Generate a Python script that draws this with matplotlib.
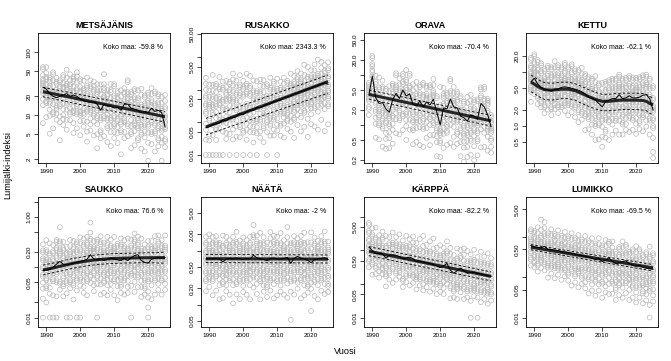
import numpy as np
import matplotlib.pyplot as plt
from matplotlib.ticker import FixedLocator, FixedFormatter, NullFormatter

plt.rcParams['font.family'] = ['Liberation Sans', 'DejaVu Sans']

vuodet = list(range(1989, 2026))

lajit = ["METSÄJÄNIS", "RUSAKKO", "ORAVA", "KETTU", "SAUKKO", "NÄÄTÄ", "KÄRPPÄ", "LUMIKKO"]
muutos = ["-59.8", "2343.3", "-70.4", "-62.1", "76.6", "-2", "-82.2", "-69.5"]

# koko maan indeksi vuosittain
idx_metsajanis = [28, 26, 22, 20, 19, 20, 21, 22, 20, 21, 20, 18, 17, 16.5, 16, 16.5, 15, 12, 15, 14,
                  14, 13, 13.5, 12, 15, 15, 13, 12.5, 12, 11, 11.5, 11, 13, 11.5, 12, 11, 6.5]
idx_rusakko = [0.068, 0.074, 0.083, 0.089, 0.095, 0.12, 0.11, 0.135, 0.14, 0.15, 0.19, 0.17, 0.21,
               0.24, 0.23, 0.29, 0.28, 0.31, 0.36, 0.37, 0.43, 0.46, 0.49, 0.57, 0.60, 0.65, 0.74,
               0.78, 0.88, 0.92, 1.05, 1.10, 1.25, 1.32, 1.50, 1.58, 1.45]
idx_orava = [4.0, 9.5, 3.5, 2.7, 2.8, 2.1, 1.8, 3.2, 4.3, 3.4, 5.0, 3.8, 4.2, 2.6, 2.4, 3.0, 2.3, 2.9,
             2.5, 3.3, 1.8, 1.0, 2.2, 2.1, 3.3, 2.3, 2.2, 1.5, 1.4, 1.2, 1.6, 1.5, 1.3, 2.7, 2.3, 1.6, 0.92]
idx_kettu = [6.6, 7.7, 6.0, 5.2, 4.8, 4.7, 4.4, 4.8, 4.8, 5.2, 5.3, 5.2, 5.0, 4.8, 4.6, 4.3, 3.9, 3.4,
             3.2, 3.0, 2.6, 2.25, 2.8, 3.0, 3.2, 3.2, 3.8, 3.2, 3.3, 3.6, 3.3, 3.3, 3.4, 3.7, 3.8, 3.2, 1.96]
idx_saukko = [0.086, 0.087, 0.09, 0.10, 0.115, 0.13, 0.115, 0.11, 0.115, 0.12, 0.125, 0.13, 0.135,
              0.145, 0.177, 0.145, 0.14, 0.15, 0.135, 0.145, 0.155, 0.145, 0.14, 0.135, 0.15, 0.135,
              0.155, 0.17, 0.177, 0.135, 0.125, 0.12, 0.145, 0.15, 0.155, 0.15, 0.155]
idx_naata = [0.70, 0.71, 0.70, 0.72, 0.70, 0.62, 0.70, 0.72, 0.70, 0.73, 0.71, 0.68, 0.72, 0.70, 0.82,
             0.74, 0.70, 0.69, 0.65, 0.72, 0.73, 0.70, 0.69, 0.72, 0.75, 0.58, 0.72, 0.78, 0.73, 0.70,
             0.66, 0.60, 0.68, 0.70, 0.72, 0.74, 0.68]
idx_karppa = [1.26, 1.0, 0.8, 0.82, 0.8, 0.59, 0.72, 0.75, 0.72, 0.66, 0.57, 0.6, 0.63, 0.57, 0.48,
              0.48, 0.45, 0.43, 0.41, 0.38, 0.35, 0.31, 0.35, 0.41, 0.26, 0.21, 0.25, 0.3, 0.25, 0.21,
              0.22, 0.23, 0.21, 0.2, 0.19, 0.18, 0.17]
idx_lumikko = [0.63, 0.58, 0.56, 0.55, 0.6, 0.5, 0.5, 0.48, 0.47, 0.44, 0.43, 0.42, 0.4, 0.38, 0.36,
               0.35, 0.34, 0.32, 0.3, 0.28, 0.3, 0.25, 0.27, 0.31, 0.25, 0.22, 0.23, 0.25, 0.26, 0.22,
               0.2, 0.19, 0.2, 0.18, 0.17, 0.165, 0.16]

# trendi ja sen luottamusväli (vuosi, arvo)
tv_suora = [1989, 2025]
tr_metsajanis, ala_metsajanis, yla_metsajanis = [23.7, 9.5], [19.7, 7.8], [27.8, 11.5]
tr_rusakko, ala_rusakko, yla_rusakko = [0.072, 1.757], [0.041, 0.78], [0.132, 2.8]
tr_orava, ala_orava, yla_orava = [4.1, 1.21], [3.3, 0.95], [5.0, 1.55]
tv_kettu = [1989, 1990, 1991, 1992, 1993, 1995, 1998, 2000, 2002, 2004, 2006, 2008, 2010, 2012,
            2014, 2016, 2018, 2020, 2022, 2023, 2024, 2025]
tr_kettu = [6.5, 6.0, 5.4, 5.0, 4.7, 4.6, 4.8, 4.8, 4.5, 4.0, 3.5, 3.1, 2.85, 2.85, 2.95, 3.0, 3.0,
            3.0, 2.95, 2.85, 2.6, 2.45]
yla_kettu = [8.8, 8.1, 7.3, 6.8, 6.4, 6.2, 6.5, 6.5, 6.1, 5.4, 4.7, 4.2, 3.85, 3.85, 4.0, 4.05, 4.05,
             4.05, 4.0, 3.85, 3.5, 3.3]
ala_kettu = [4.3, 4.0, 3.6, 3.3, 3.1, 3.0, 3.2, 3.2, 3.0, 2.6, 2.3, 2.05, 1.9, 1.9, 1.95, 2.0, 2.0,
             2.0, 1.95, 1.9, 1.7, 1.6]
tv_saukko = [1989, 1992, 1995, 1998, 2001, 2004, 2007, 2010, 2013, 2016, 2019, 2022, 2025]
tr_saukko = [0.088, 0.097, 0.108, 0.12, 0.13, 0.139, 0.145, 0.149, 0.151, 0.153, 0.154, 0.155, 0.155]
yla_saukko = [0.11, 0.121, 0.135, 0.15, 0.162, 0.174, 0.181, 0.186, 0.189, 0.191, 0.193, 0.194, 0.2]
ala_saukko = [0.07, 0.078, 0.086, 0.096, 0.104, 0.111, 0.116, 0.119, 0.121, 0.122, 0.123, 0.122, 0.12]
tr_naata, ala_naata, yla_naata = [0.71, 0.696], [0.60, 0.59], [0.85, 0.83]
tr_karppa, ala_karppa, yla_karppa = [0.95, 0.17], [0.7, 0.125], [1.3, 0.23]
tr_lumikko, ala_lumikko, yla_lumikko = [0.57, 0.174], [0.49, 0.145], [0.66, 0.21]

# alueiden arvot suhteessa koko maan indeksiin:
# pieni kirjain = poikkeama (m = indeksi), iso kirjain = puoli askelta ylempänä, _ = nolla
al_metsajanis = """
dHjKlmMnNopQr fIjkKlLmnOpqR cGiJklMmNoPpq eHikLmMnnOqRs GiJjkLmnNoPqr
bFhJklMmnOoPq EghIkLlmNopQr dFiJkLmnNoOqs gHijKmMnnOpqR CfHijKlMnoPqQ
eHiJkLlmNoPrs dGiIjkMmNopQr FhIjkLmMnoOpr cEhJkLmnNoPqs fGiJkKlmNoPqR
DhIjKlmMnOpqr bEhIjKlMnOpPr fGhJkLmMnOqrS eIjKlMnNoPqrT dGhIjkLlMnOpq
cFhIjKmMnoPqR EgHiJkLmnOpRs dFhIjKmMnOoPq bGhIjKlMnNoPr DfHiIkKmMnOpq
eGhJkLmNnOpRs cFgHjKlMmNoPq dGiIjKlMnOpQr EfHiJkLmMnOpr dGhIjKlLmNoQs
cFhIjKmMnNoPq aEhIjKlMnOpQr dFgIjKlMmNoPr cGhIjKlLmNoQr dEfHiJkMmNoPq
aEgHiJkLmMnOq hIjLmNnOpQrSu
""".split()
al_rusakko = """
_jLnPqRsTuVxY _IkNoQrRsTvW _JmOpQrStUwY _iKlNpQrSuVw _KmNoQrSsUvX
_jLmOpQrTuV HjLnOpRrStUw _iKmNpQrStUv GjLmOqQrSuVx _hJlNoPqRsTv
gIjLmNpQrStV _HiKlNoQrStU fHjKmNoQrStV _GiJlMnPqRsU eGiJkLnOpQrT
_FhIjLmNoPqS EgIjKmNoPqRt dGhJkLmNoPrS _fHiJkLmNoQr eGhIjLmNoPqS
DfHiJkMnOpQr _EgHjKlMnOpR dFgIjKlMnOpQ cFhIiJkLmNoPr eGgHiJkLmNoPq
dFhIjJkLmNoOpR bFgHiJkLmNnOpQ eGiJjKlMmNoPqR cFhIjKlLmNoOpQ dGhIjKkLmNnOqS
aEhIjKlLmMnOpR dFhIiJkLmNnOpQ cGhIjKkLmNoOqR bFhIjKlLmNoOpS dGhIiJkLmMnOqR
aFhIjJkLmNnOpQ cGhIjKkLmNoPqR
""".split()
al_orava = """
hIjKlLmMnNoOp gHiJkLmNnOpQr cFhIjKlMmNoPqR dGhIjKkLmNoPqS bFgHiJkLmNoPqR
cEgIjKlMmNoQr dFhIjKlLmNoPrS bEgHiJkMmNoPq cFhIjKlMnNoQr dGhIjKkLmNoPr
cFgIjKlLmNoPq bEgHiJkLmNoPqS dFhIjKlMmNoQr cFgHiJkMnNoPr dGiIjKlMnOpQs
bFhIjKlLmNoPq cGhIjKmMnOpRs dFhIjKlMnNoPq cEhIjKlLmNoQr dFgHiJkMnNoPr
bEgHiJkLmMnPq eHiJkKlMnOpQrV cFhIjKlMnOpPr dGgHiJkLmNoPq bFhIjKlLmNoQr
cEhIjKlMnNoPr dFgIjKkLmNoPq cFhIjKlMmNoQr bEgHiJkMnNoPq dFhIjKlMmNoQs
cFgHiJkLmNoPr bEhIjKkLmNoPq dGhIjKlMmNoQr bFhIiJkLmNoPq cFhIjKlLmNoQr
dGiIjKlMnOpPq bFhIjKlLmNnOp
""".split()
al_kettu = """
hJkKlMmNnOoPqRs iJjKlMmNnOoPqRs hIjKlLmMnOoPqRs hIiJkLmMnNoPqRs gHiJkLlMnNoOpQr
hIjKkLmMnOoPqRs gHiJkLmMnNoPqRs hIiJkLlMnOoPqRt gHiJkKlMmNoPqRs hHiJkLmMnNoOpQr
gHiJkLlMnNoPqRs fHiIjKlMmNoOpQr gHiJkKlMnNoPqRs fHiJkLlMmNoOpQr eGhIjKlMmNnOpQr
fGhIjKlMnNoOpQs dGhIjKkLmMnOpQr eGhIiJkLmNnOpQr dFhIjKlLmNoOpQr cFgHiJkLmMnOpQs
dGhIjKkLmNnOpQr cEhIjKlMmNoOpQs dEfHiJkLmNnOpQr cGhIiJkLmMnOpQr dFhIjKkLmNnOpQr
eGhIjKlLmMnOpQr cFhIjKlMnNoOpQr dFgHiJkLmMnOpQr eFhIjKkLmNnOpQr dGhIiJkLmMnOpQr
eGhIjKlLmNnOpQr dFhIjKlMmNoOpQr eFgHiJkLmNnOpQr dGhIjKkLmMnOpQr eFhIiJkLmNoOpQr
dGhIjKlLmMnOpQr aBfHiJkLmMnOpRs
""".split()
al_saukko = """
_fHjKlMnOpQrS eHiJkLmNoOpQrT _gHjKlMnNoPqS _fIjKlMmNoPqR _eHiJkLmNoPqRs
fGhJkLmNoOpQrU eGhIjKlLmNoPqR _fHiJkLmNnOpQ _gHiJkLmMnOpQs dGhIjKlMnOoPqR
_fHiJkKlMnOpQr _gHiJkLlMnOpQs eFhIjKlLmNoPqR dGhIjKlMmNoPqR fGhIjKlMnNoPqRu
eFhIjKlLmNoOpQ _gHiJkKlMnOpQr dFhIjKlMmNoPqR eGhIjKlLmNoOpQ dFhIiJkLmNoPqR
eFhIjKkLmNnOpQ dGhIjKlLmNoOpR cFhIjKlMmNoPq eFgHiJkLmNoPqR dGhIjKkLmNnOpQ
eFhIjKlLmNoOpR _fHiJkLmMnOpQ dFhIiJkLmNoPqR eGhIjKkLmNnOpQ dFhIjKlLmNoOpR
eFgHiJkLmMnOpQ _bDfHiJkLmNoPqR cFhIjKkLmNnOpQ dGhIjKlLmNoOpR eFhIiJkLmNoPqR
dGhIjKkLmMnOpQ eFhIjKlLmNoOpR
""".split()
al_naata = """
eGhIjKlMmNoPqR fHhIjKlLmNoOpQs dGhIjKlMnNoPqR eHiJkKlMmNoPqR cFhIjKlMnOoPq
dGhIjKlMnNoPqS eFhIiJkLmNoPqR dGhIjKkLmNoOpQ bFhIjKlMmNoPqR dFgHiJkLmNoPqS
cGhIjKlLmNoOpQ eFhIjKlMmNoPqR dGhIiJkLmNoOpQ cFhIjKkLmNoPqR eGhIjKlMmNoQrT
dFhIjKlLmNoPqR cGhIjKlMnOoPqS eFhIiJkLmNoPqR dFgHiJkLmMnOpQ eGhIjKlLmNoPrS
cFhIjKlMnNoPqR dGhIjKkLmNoPqR eFhIjKlMmNoPqS dGhIiJkLmNoOpQ cFhIjKlLmNoPrT
8fHiJkLmNnOpQr dGhIjKlMmNoPqR eFhIjKkLmNoOpQ cGhIjKlMnNoPqR dFhIiJkLmNoPqS
eFgHiJkLmMnOpQ aFhIjKlLmNoPrT dGhIjKlMnNoPqR cFhIjKkLmNoOpQ eGhIiJkLmNoPqR
dFhIjKlMmNoPqS eFgHiJkLmNoOpQ
""".split()
al_karppa = """
hIjKlMmNoPqRs gIjKlMnNoPqR hIjKlLmNoPqS gHjKlMmNoOpQ hIiJkLmNoPqR
fHiJkLmNnOpR gHiJkLlMnOpQ fIjKlMmNoOpR gHiJkKlMnOpQ hIiJkLmNoOpR
fGhJkLmMnOpQ gHiJkLlMnOpR fHiJkLmNnOpQ gHiJkKlMnOqR fHiIjKlMnOpQ
gHiJkLmMnOpR fGiJkLlMnOqS gHiJkKlMnOpQ fHiJkLmMnOpR gHiIjKlMnOqS
fHiJkLlMnOpQ gHiJkLmNnOpR fGiJkKlMnOpQ hIiJkLmMnOpR fHiJkLlMnOqR
gHiJkLmNoOpQ fHiIjKlMnOpR gHiJkKlMnOpQ fHiJkLlMnOqR gHiJkLmMnOpR
_fHiJkLmNnOpQ gHiIjKlMnOpR _gHiJkLlMnOq fHiJkLmMnOpR gHiJkKlMnOpQ
fHiIjKlMnOpR gHiJkLlMnOpQ
""".split()
al_lumikko = """
hIjKkLmMnNoPq hIiJkLmMnOoPq gHiJkLlMnNoPr hIjJkLmNnOpQt gHiJkLmMnOpQs
fHiIjKlMnNoPq gHiJkKlMmNoPr fHiJjKlMnOoPq gHiIjKlMmNoPr fHiJkKlMnNoPq
gHiJkLlMnOoPr fGhIjKlMmNoPq eHiJkKlMnNoPr fGhIjKlMmNoPq eHiIjKlMnOoPr
fGhIjKlLmNoPq eFhIjKlMmNoPr dGhIjKkLmNoPq eFhIjKlMnNoPr dGhIiJkLmNoPq
eFhIjKlLmNoPr dGhIjKlMmNoPq eFhIjKkLmNoPr dFhIjKlMnNoPq eGhIjKlLmNoPr
dFgHiJkLmMnOp eGhIiJkLmNoPq dFhIjKkLmNoPr eGhIjKlLmNoPq dFhIiJkLmMnOp
eGhIjKlMnNoPq dFhIjKkLmNoPr eGhIjKlLmNoPq dFgHiJkLmMnOp eFhIiJkLmNoPq
_dGhIjKlMnOpR eFhIjKkLmNoPq
""".split()

# yhden merkkiaskeleen koko (log10) ja nollan kohta kuvassa
askel = [0.0635, 0.1223, 0.0799, 0.0748, 0.08, 0.0746, 0.12, 0.1005]
nolla = [None, 0.01, None, None, 0.01, None, 0.01, 0.01]

indeksit = [idx_metsajanis, idx_rusakko, idx_orava, idx_kettu, idx_saukko, idx_naata, idx_karppa, idx_lumikko]
alueet = [al_metsajanis, al_rusakko, al_orava, al_kettu, al_saukko, al_naata, al_karppa, al_lumikko]
trendit = [(tv_suora, tr_metsajanis, ala_metsajanis, yla_metsajanis),
           (tv_suora, tr_rusakko, ala_rusakko, yla_rusakko),
           (tv_suora, tr_orava, ala_orava, yla_orava),
           (tv_kettu, tr_kettu, ala_kettu, yla_kettu),
           (tv_saukko, tr_saukko, ala_saukko, yla_saukko),
           (tv_suora, tr_naata, ala_naata, yla_naata),
           (tv_suora, tr_karppa, ala_karppa, yla_karppa),
           (tv_suora, tr_lumikko, ala_lumikko, yla_lumikko)]

# akselit
ylims = [(1.75, 202), (0.0057, 53.7), (0.174, 69), (0.2, 54),
         (0.0065, 2.48), (0.0387, 9.8), (0.0053, 39), (0.0058, 10.2)]
yticks = [([2, 5, 10, 20, 50, 100], ["2", "5", "10", "20", "50", "100"], []),
          ([0.01, 0.05, 0.5, 5, 50], ["0.01", "0.05", "0.50", "5.00", "50.00"], [0.1, 1, 10]),
          ([0.2, 0.5, 2, 5, 20, 50], ["0.2", "0.5", "2.0", "5.0", "20.0", "50.0"], [1, 10]),
          ([0.5, 1, 2, 5, 20], ["0.5", "1.0", "2.0", "5.0", "20.0"], [10]),
          ([0.01, 0.05, 0.2, 1], ["0.01", "0.05", "0.20", "1.00"], [0.02, 0.1, 0.5, 2]),
          ([0.05, 0.2, 0.5, 2, 5], ["0.05", "0.20", "0.50", "2.00", "5.00"], [0.1, 1]),
          ([0.01, 0.05, 0.5, 5], ["0.01", "0.05", "0.50", "5.00"], [0.1, 1, 10]),
          ([0.01, 0.05, 0.5, 5], ["0.01", "0.05", "0.50", "5.00"], [0.1, 1])]

MERKIT = "0123456789abcdefghijklmnopqrstuvwxyz"
KESKI = MERKIT.index("m")

W, H = 671, 361
fig = plt.figure(figsize=(W / 100, H / 100), dpi=100)

vasen = [38, 201, 364, 526]
ylä = [33, 197]
lev, kork = 132, 130

for i, laji in enumerate(lajit):
    r, c = divmod(i, 4)
    ax = fig.add_axes([vasen[c] / W, 1 - (ylä[r] + kork) / H, lev / W, kork / H])
    ax.set_yscale("log")

    idx = indeksit[i]
    assert len(idx) == 37 and len(alueet[i]) == 37, laji
    px, py = [], []
    for v, vuosi in enumerate(vuodet):
        for ch in alueet[i][v]:
            if ch == "_":
                py.append(nolla[i])
            else:
                k = MERKIT.index(ch.lower()) - KESKI + (0.5 if ch.isupper() else 0.0)
                py.append(idx[v] * 10 ** (k * askel[i]))
            px.append(vuosi)
    ax.scatter(px, py, s=12, facecolors="none", edgecolors="#b8b8b8", linewidths=0.5, zorder=1)

    tv, tr, ala, yla = trendit[i]
    ax.plot(tv, tr, color="#262626", lw=2.2, zorder=2, solid_capstyle="butt")
    ax.plot(tv, ala, color="black", lw=0.6, dashes=(3, 2.5), zorder=3)
    ax.plot(tv, yla, color="black", lw=0.6, dashes=(3, 2.5), zorder=3)
    ax.plot(vuodet, idx, color="black", lw=0.7, zorder=4)

    ax.set_xlim(1987.55, 2026.45)
    ax.set_ylim(*ylims[i])
    ax.set_xticks([1990, 2000, 2010, 2020])
    ax.set_xticklabels(["1990", "2000", "2010", "2020"])
    maj, lab, mino = yticks[i]
    ax.yaxis.set_major_locator(FixedLocator(maj))
    ax.yaxis.set_major_formatter(FixedFormatter(lab))
    ax.yaxis.set_minor_locator(FixedLocator(mino))
    ax.yaxis.set_minor_formatter(NullFormatter())
    ax.tick_params(which="both", direction="out", length=2.6, width=0.5, labelsize=4.6, pad=1.8)
    ax.tick_params(axis="x", which="minor", bottom=False)
    for lbl in ax.get_yticklabels():
        lbl.set_rotation(90)
        lbl.set_va("center")
    for s in ax.spines.values():
        s.set_linewidth(0.6)

    ax.set_title(laji, fontsize=6.5, fontweight="bold", pad=3.5)
    ax.text(0.947, 0.892, f"Koko maa: {muutos[i]} %", transform=ax.transAxes,
            ha="right", va="center", fontsize=5)

fig.text(8 / W, 1 - 165 / H, "Lumijälki-indeksi", rotation=90, ha="center", va="center", fontsize=6.6)
fig.text(345 / W, 1 - 351 / H, "Vuosi", ha="center", va="center", fontsize=6.6)

fig.savefig("out.png", dpi=100)
